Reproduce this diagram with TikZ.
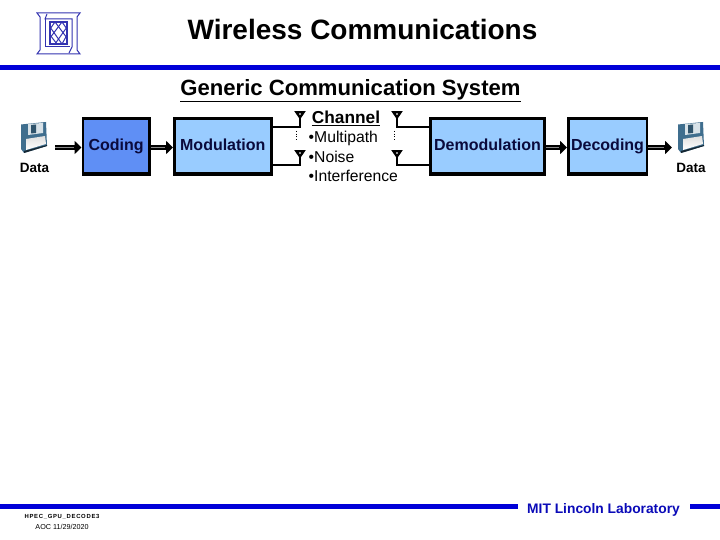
\documentclass[tikz,border=0pt]{standalone}
\usepackage{fontspec}
\setmainfont{Liberation Sans}
\usetikzlibrary{arrows.meta,calc}
\definecolor{codefill}{HTML}{5F8FF5}
\definecolor{boxfill}{HTML}{99CCFF}
\definecolor{barblue}{HTML}{0000D8}
\definecolor{labblue}{HTML}{0A0AB8}
\definecolor{logoblue}{HTML}{3333B0}
\definecolor{floppy}{HTML}{3F6E8E}
\definecolor{arrowgrey}{HTML}{8A8A8A}
\newcommand{\fpx}[1]{\fontsize{#1}{#1}\selectfont}
\tikzset{
  x=1pt,y=-1pt,
  block/.style={draw=black,line width=2.6pt,minimum height=55.5pt,inner sep=0pt,text height=11.5pt,text depth=3.5pt,font=\bfseries\fpx{16}\color[HTML]{0A0A3C},anchor=north west},
  flow/.style={draw=black,line width=5pt,-{Triangle[length=7pt,width=13pt,inset=0pt]}},
  flowcore/.style={draw=arrowgrey,line width=1.3pt},
  wire/.style={draw=black,line width=1.8pt},
  ant/.style={fill=white,draw=black,line width=2.3pt,line join=miter},
  txt/.style={inner sep=0pt,anchor=center},
}
\newcommand{\floppyicon}[2]{%
  \begin{scope}[shift={(#1,#2)}]
    \fill[floppy] (0,2.5) -- (25,0) -- (26,24) -- (3,31) -- (0,27) -- cycle;
    \fill[black!65!floppy] (3,29) -- (26,23) -- (26,24) -- (3,31) -- cycle;
    \shade[top color=white!75!gray,bottom color=white] (5,17) -- (24,14) -- (25,22) -- (5,28) -- cycle;
    \fill[white!80!floppy] (7,2) -- (22,1) -- (22,11) -- (7,13) -- cycle;
    \fill[floppy!75!black] (10,3) -- (15,2.5) -- (15,11) -- (10,11.5) -- cycle;
  \end{scope}}
\newcommand{\antenna}[3]{% name, x, top y
  \draw[ant] (#2-3.6,#3+1.2) -- (#2+3.6,#3+1.2) -- (#2,#3+6.5) -- cycle;
  \coordinate (#1) at (#2,#3+6.5);}
\begin{document}
\begin{tikzpicture}
\useasboundingbox (0,0) rectangle (720,540);
\fill[white] (0,0) rectangle (720,540);
% logo
\begin{scope}[draw=logoblue,line width=1pt]
  \draw (37,13) -- (80,13) -- (77,17) -- (77,50) -- (80,54) -- (37,54) -- (40,50) -- (40,17) -- cycle;
  \draw (47,14) -- (45,19) -- (72,19) -- (72,47) -- (69,53);
  \draw (45,19) -- (45,47) -- (70,47);
  \draw[line width=1.2pt] (50,22) rectangle (67,44);
  \draw (50,27) -- (62,44) (50,35) -- (57,44) (55,22) -- (67,38) (62,22) -- (67,29);
  \draw (67,27) -- (55,44) (67,35) -- (62,44) (62,22) -- (50,38) (55,22) -- (50,29);
\end{scope}
% rules
\fill[barblue] (0,65) rectangle (720,70);
\fill[barblue] (0,504) rectangle (518,509);
\fill[barblue] (690,504) rectangle (720,509);
% titles
\node[txt,font=\bfseries\fpx{28}] (title) at (362.5,29) {Wireless Communications};
\node[txt,font=\bfseries\fpx{22.1}] (subtitle) at (350.5,90.5) {\underline{Generic Communication System}};
\node[txt,font=\bfseries\fpx{17.3}] (channel) at (346,118) {\underline{Channel}};
% blocks
\node[block,fill=codefill,minimum width=66.5pt] (coding) at (81.5,117) {Coding};
\node[block,fill=boxfill,minimum width=97pt] (mod) at (173,117) {Modulation};
\node[block,fill=boxfill,minimum width=114.4pt] (demod) at (429,117) {Demodulation};
\node[block,fill=boxfill,minimum width=78.5pt] (dec) at (567,117) {Decoding};
\foreach \b in {coding,mod,demod,dec}{
  \fill[black] ($(\b.south west)+(0,-2)$) rectangle ($(\b.south east)+(0,1)$);
}
% channel text
\node[txt,anchor=west,font=\fpx{15.7}] (b1) at (308.5,138) {•Multipath};
\node[txt,anchor=west,font=\fpx{15.7}] (b2) at (308.5,156.5) {•Noise};
\node[txt,anchor=west,font=\fpx{15.7}] (b3) at (308.5,175.5) {•Interference};
% antennas and wires
\antenna{a1}{300}{111}
\antenna{a2}{300}{150}
\antenna{a3}{397}{111}
\antenna{a4}{397}{150}
\coordinate (m1) at (mod.east |- 0,127);
\coordinate (m2) at (mod.east |- 0,165);
\coordinate (d1) at (demod.west |- 0,127);
\coordinate (d2) at (demod.west |- 0,165);
\draw[wire] (a1) |- (m1);
\draw[wire] (a2) |- (m2);
\draw[wire] (a3) |- (d1);
\draw[wire] (a4) |- (d2);
\draw[black,line width=0.7pt,dotted] (296,131) -- (296,140);
\draw[black,line width=0.7pt,dotted] (394,131) -- (394,140);
% data
\floppyicon{21}{122}
\floppyicon{678}{122}
\node[txt,font=\bfseries\fpx{13.5}] (dataL) at (34.5,168) {Data};
\node[txt,font=\bfseries\fpx{13.5}] (dataR) at (691,168) {Data};
\coordinate (inL) at (55,147.5);
\coordinate (outR) at (672,147.5);
\draw[flow] (inL) -- (coding.west |- inL);
\draw[flow] (coding.east |- inL) -- (mod.west |- inL);
\draw[flow] (demod.east |- inL) -- (dec.west |- inL);
\draw[flow] (dec.east |- inL) -- (outR);
\draw[flowcore] (inL) -- ($(coding.west |- inL)+(-8,0)$);
\draw[flowcore] (coding.east |- inL) -- ($(mod.west |- inL)+(-8,0)$);
\draw[flowcore] (demod.east |- inL) -- ($(dec.west |- inL)+(-8,0)$);
\draw[flowcore] (dec.east |- inL) -- ($(outR)+(-8,0)$);
% footer
\node[txt,font=\bfseries\fpx{13.8},text=labblue] (lab) at (603.5,509.5) {MIT Lincoln Laboratory};
\node[txt,font=\bfseries\fpx{5.9}] (foot1) at (62,517) {\addfontfeature{LetterSpace=12}HPEC\_GPU\_DECODE3};
\node[txt,font=\fpx{7.2}] (foot2) at (62,526.5) {AOC 11/29/2020};
\end{tikzpicture}
\end{document}
